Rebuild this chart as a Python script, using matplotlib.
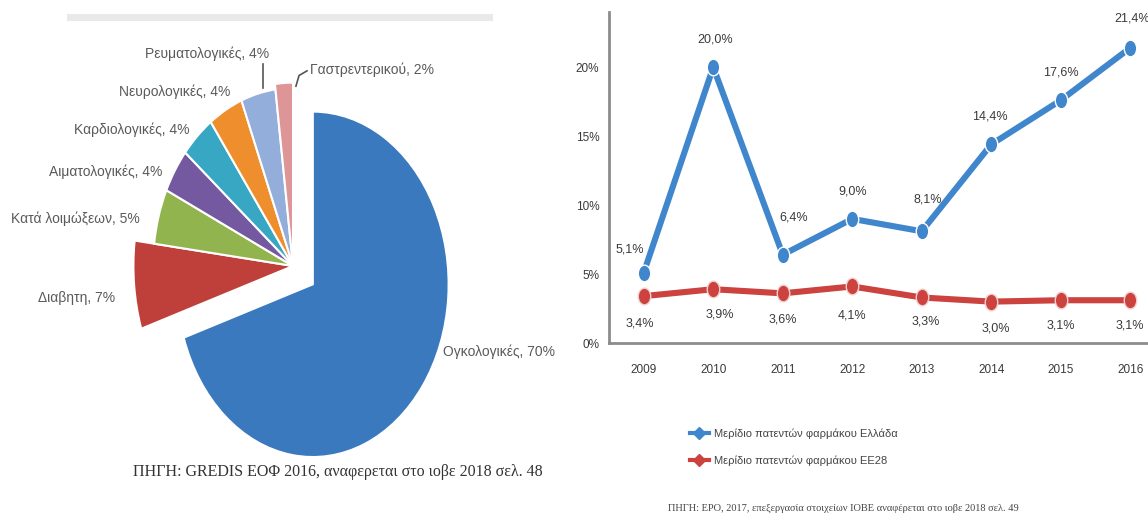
import matplotlib
matplotlib.use("Agg")
import matplotlib.pyplot as plt
from matplotlib import font_manager
from matplotlib.lines import Line2D
from matplotlib.patches import Rectangle
from matplotlib.path import Path
from matplotlib.transforms import Affine2D

_installed = {f.name for f in font_manager.fontManager.ttflist}
NARROW = "Liberation Sans Narrow" if "Liberation Sans Narrow" in _installed else "Liberation Sans"
SERIF = "Liberation Serif"

# --- pie: approved drugs by therapeutic area (%) ---
areas = ["Ογκολογικές", "Διαβητη", "Κατά λοιμώξεων", "Αιματολογικές",
         "Καρδιολογικές", "Νευρολογικές", "Ρευματολογικές", "Γαστρεντερικού"]
shares = [70, 7, 5, 4, 4, 4, 4, 2]
pie_colors = ["#3A79BE", "#BF403A", "#92B44E", "#7459A0",
              "#37A7C4", "#EF8E2C", "#93AEDA", "#DE9597"]
pie_source = "ΠΗΓΗ: GREDIS ΕΟΦ 2016, αναφερεται στο ιοβε 2018 σελ. 48"

# --- line: share of pharmaceutical patents (%) ---
years = ["2009", "2010", "2011", "2012", "2013", "2014", "2015", "2016"]
greece = [5.1, 20.0, 6.4, 9.0, 8.1, 14.4, 17.6, 21.4]
eu28 = [3.4, 3.9, 3.6, 4.1, 3.3, 3.0, 3.1, 3.1]
series_names = ["Μερίδιο πατεντών φαρμάκου Ελλάδα", "Μερίδιο πατεντών φαρμάκου ΕΕ28"]
line_source = "ΠΗΓΗ: EPO, 2017, επεξεργασία στοιχείων ΙΟΒΕ αναφέρεται στο ιοβε 2018 σελ. 49"

BLUE = "#3F86CD"
RED = "#CB423E"
W, H = 1148, 524

fig = plt.figure(figsize=(W / 100, H / 100), dpi=100)

# faded caption strip above the pie
fig.patches.append(Rectangle((67 / W, 1 - 21 / H), 426 / W, 7 / H,
                             transform=fig.transFigure, color="#e9e9e9", lw=0))

# ---------------- pie ----------------
ax = fig.add_axes([0, 0, 580 / W, 1])
explode = [0.175] + [0] * (len(shares) - 1)
wedges, _ = ax.pie(shares, colors=pie_colors, startangle=90, counterclock=False,
                   explode=explode, wedgeprops=dict(edgecolor="white", linewidth=1.5))
ax.set_aspect("auto")
ax.set_xlim(-2.093, 2.05)
ax.set_ylim(-1.449, 1.494)
ax.axis("off")

# slice radii: main slice a touch smaller, diabetes and gastro a touch larger
wedges[0].set_radius(0.97)
wedges[1].set_radius(1.14)
wedges[-1].set_radius(1.03)

# label anchors (data units) and alignment, one per slice
label_pos = [(1.071, -0.483, "left"), (-1.271, -0.180, "right"),
             (-1.093, 0.264, "right"), (-0.936, 0.528, "right"),
             (-0.736, 0.764, "right"), (-0.45, 0.978, "right"),
             (-0.614, 1.191, "center"), (0.121, 1.101, "left")]
for name, share, (lx, ly, ha) in zip(areas, shares, label_pos):
    ax.text(lx, ly, f"{name}, {share}%", ha=ha, va="center",
            family=NARROW, fontsize=10, color="#5a5a5a")

# leader lines for the two top labels
ax.plot([-0.214, -0.214], [1.0, 1.135], color="#555555", lw=1.2)
ax.plot([0.021, 0.043, 0.10], [1.01, 1.07, 1.096], color="#555555", lw=1.2)

fig.text(338 / W, 1 - 472 / H, pie_source, ha="center", va="center",
         family=SERIF, fontsize=11.5, color="#333333")

# ---------------- line chart ----------------
ax2 = fig.add_axes([609 / W, 1 - 343 / H, 556 / W, 331 / H])
oval = Path.unit_circle().transformed(Affine2D().scale(0.75, 1.0))
x = list(range(len(years)))
ax2.plot(x, greece, color=BLUE, lw=4.4, marker=oval, ms=12,
         mec="white", mew=1.0, mfc=BLUE, solid_capstyle="butt", zorder=3)
ax2.plot(x, eu28, color=RED, lw=4.4, marker=oval, ms=12,
         mec="#f3d0cf", mew=1.0, mfc=RED, solid_capstyle="butt", zorder=3)

greece_offsets = [(-10, 17), (1, 20), (8, 27), (0, 20), (4, 23), (-1, 20), (0, 20), (1, 21)]
eu28_offsets = [(-3, -20), (5, -18), (0, -19), (0, -21), (3, -17), (3, -19), (0, -18), (0, -18)]
for xi, v, off in zip(x, greece, greece_offsets):
    ax2.annotate(f"{v:.1f}%".replace(".", ","), (xi, v), xytext=off,
                 textcoords="offset points", ha="center", va="center",
                 family=NARROW, fontsize=9, color="#3a3a3a")
for xi, v, off in zip(x, eu28, eu28_offsets):
    ax2.annotate(f"{v:.1f}%".replace(".", ","), (xi, v), xytext=off,
                 textcoords="offset points", ha="center", va="center",
                 family=NARROW, fontsize=9, color="#3a3a3a")

ax2.set_xlim(-0.5, len(years) - 0.5)
ax2.set_ylim(0, 24)
ax2.set_yticks([0, 5, 10, 15, 20])
ax2.set_yticklabels([f"{t}%" for t in [0, 5, 10, 15, 20]])
ax2.set_xticks(x)
ax2.set_xticklabels(years)
ax2.tick_params(length=0, labelsize=8.5, labelcolor="#3a3a3a")
ax2.tick_params(axis="x", pad=15)
ax2.tick_params(axis="y", pad=7)
for lbl in ax2.get_xticklabels() + ax2.get_yticklabels():
    lbl.set_family(NARROW)
for side in ("top", "right"):
    ax2.spines[side].set_visible(False)
for side in ("left", "bottom"):
    ax2.spines[side].set_color("#8c8c8c")
    ax2.spines[side].set_linewidth(2)

handles = [Line2D([], [], color=c, lw=3, marker="D", ms=6, mec=c)
           for c in (BLUE, RED)]
fig.legend(handles, series_names, loc="center left",
           bbox_to_anchor=(690 / W, 1 - 447 / H), frameon=False,
           borderpad=0, borderaxespad=0, handlelength=1.7, handletextpad=0.5,
           labelspacing=1.45, prop=dict(family=NARROW, size=8),
           labelcolor="#444444")

fig.text(668 / W, 1 - 508 / H, line_source, ha="left", va="center",
         family=SERIF, fontsize=7.5, color="#444444")

fig.savefig("out.png", dpi=100)
